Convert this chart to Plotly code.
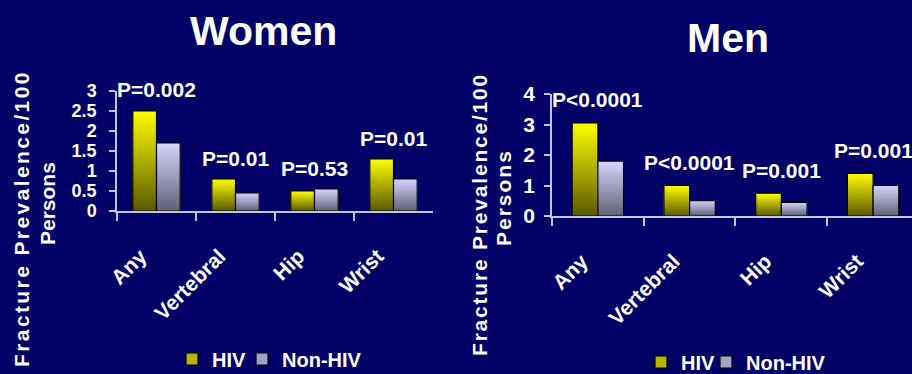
import plotly.graph_objects as go

# ---- data -------------------------------------------------------------
categories = ["Any", "Vertebral", "Hip", "Wrist"]

women_hiv = [2.5, 0.8, 0.5, 1.3]
women_non_hiv = [1.7, 0.45, 0.55, 0.8]
women_p = ["P=0.002", "P=0.01", "P=0.53", "P=0.01"]

men_hiv = [3.05, 1.0, 0.75, 1.4]
men_non_hiv = [1.8, 0.5, 0.45, 1.0]
men_p = ["P<0.0001", "P<0.0001", "P=0.001", "P=0.001"]

women_yticks = [0, 0.5, 1, 1.5, 2, 2.5, 3]
men_yticks = [0, 1, 2, 3, 4]

# ---- style ------------------------------------------------------------
BG = "#000066"
AXIS = "#C4C4DC"
FONT = "Liberation Sans"
N_SLICES = 30

HIV_TOP, HIV_BOTTOM = (255, 255, 0), (90, 90, 0)
NON_TOP, NON_BOTTOM = (214, 214, 255), (96, 96, 118)


def mix(top, bottom, t):
    """t = 0 at the bottom of a bar, 1 at the top."""
    c = [round(b + (a - b) * t) for a, b in zip(top, bottom)]
    return f"rgb({c[0]},{c[1]},{c[2]})"


def gradient_bars(values, top, bottom, offset, width, xa, ya):
    """A vertically shaded bar series.

    Bars are drawn from the full height downwards, each one shorter than the
    last, so only the top band of each stays visible and the bands never leave
    hairline gaps. A transparent bar with a black edge goes on top.
    """
    traces = []
    for k in range(N_SLICES - 1, -1, -1):
        traces.append(go.Bar(
            x=categories,
            y=[v * (k + 1) / N_SLICES for v in values],
            offset=offset, width=width,
            marker=dict(color=mix(top, bottom, (k + 0.5) / N_SLICES),
                        line=dict(width=0)),
            showlegend=False, hoverinfo="skip",
            xaxis=xa, yaxis=ya,
        ))
    traces.append(go.Bar(
        x=categories, y=values, offset=offset, width=width,
        marker=dict(color="rgba(0,0,0,0)", line=dict(color="#000000", width=1.2)),
        showlegend=False, hoverinfo="skip", xaxis=xa, yaxis=ya,
    ))
    return traces


fig = go.Figure()

panels = [
    ("x", "y", "legend", women_hiv, women_non_hiv, 0.30, 25),
    ("x2", "y2", "legend2", men_hiv, men_non_hiv, 0.28, 20),
]
for xa, ya, lg, hiv, non_hiv, w, lw in panels:
    for t in gradient_bars(hiv, HIV_TOP, HIV_BOTTOM, -w, w, xa, ya):
        fig.add_trace(t)
    for t in gradient_bars(non_hiv, NON_TOP, NON_BOTTOM, 0, w, xa, ya):
        fig.add_trace(t)
    # legend entries
    fig.add_trace(go.Bar(x=[None], y=[None], name="HIV", legend=lg, legendwidth=lw,
                         marker=dict(color=mix(HIV_TOP, HIV_BOTTOM, 0.55),
                                     line=dict(color="#000000", width=1.2)),
                         xaxis=xa, yaxis=ya))
    fig.add_trace(go.Bar(x=[None], y=[None], name="Non-HIV", legend=lg,
                         marker=dict(color=mix(NON_TOP, NON_BOTTOM, 0.55),
                                     line=dict(color="#000000", width=1.2)),
                         xaxis=xa, yaxis=ya))

W, H = 912, 374

tick_font = dict(family=FONT, size=21, color="white", weight="bold")

xaxis_common = dict(
    type="category", showline=True, linecolor=AXIS, linewidth=1.5,
    ticks="outside", tickson="boundaries", ticklen=8, tickcolor=AXIS, tickwidth=1.5,
    tickangle=-45, tickfont=tick_font, showgrid=False, zeroline=False,
    ticklabelstandoff=23, ticklabelshift=-16,
)
yaxis_common = dict(
    showline=True, linecolor=AXIS, linewidth=1.5,
    ticks="outside", ticklen=6, tickcolor=AXIS, tickwidth=1.5,
    showgrid=False, zeroline=False,
)
legend_common = dict(
    orientation="h", xanchor="left", yanchor="middle",
    font=dict(family=FONT, size=20, color="white", weight="bold"),
    bgcolor="rgba(0,0,0,0)", borderwidth=0,
)

fig.update_layout(
    width=W, height=H,
    margin=dict(l=0, r=0, t=0, b=0, autoexpand=False),
    paper_bgcolor=BG, plot_bgcolor=BG,
    barmode="overlay",
    xaxis=dict(domain=[117 / W, 433 / W], range=[-0.5, 3.5], anchor="y", **xaxis_common),
    yaxis=dict(domain=[(H - 211) / H, (H - 91) / H], range=[0, 3], anchor="x",
               tickvals=women_yticks, ticklabelstandoff=9,
               tickfont=dict(family=FONT, size=18, color="white", weight="bold"),
               **yaxis_common),
    xaxis2=dict(domain=[552 / W, 1.0], range=[-0.5, 3.424], anchor="y2", **xaxis_common),
    yaxis2=dict(domain=[(H - 216) / H, (H - 94) / H], range=[0, 4], anchor="x2",
                tickvals=men_yticks, ticklabelstandoff=5, tickfont=tick_font,
                **yaxis_common),
    legend=dict(x=172 / W, y=1 - 359 / H, **legend_common),
    legend2=dict(x=641 / W, y=1 - 362 / H, **legend_common),
    showlegend=True,
)

annotations = []
# panel titles
annotations.append(dict(text="Women", x=263 / W, y=1 - 31 / H, xref="paper", yref="paper",
                        showarrow=False, xanchor="center", yanchor="middle",
                        font=dict(family=FONT, size=41, color="white", weight="bold")))
annotations.append(dict(text="Men", x=728 / W, y=1 - 38 / H, xref="paper", yref="paper",
                        showarrow=False, xanchor="center", yanchor="middle",
                        font=dict(family=FONT, size=41, color="white", weight="bold")))

# y-axis titles (two rotated lines each)
title_font = dict(family=FONT, size=21, color="white", weight="bold")
for txt, cx, cy, sp in [
    ("Fracture Prevalence/100", 21, 219, 2.4),
    ("Persons", 48, 204, 0.0),
    ("Fracture Prevalence/100", 479, 215, 1.8),
    ("Persons", 503, 198, 2.0),
]:
    annotations.append(dict(
        text=f'<span style="letter-spacing:{sp}px">{txt}</span>',
        x=cx / W, y=1 - cy / H, xref="paper", yref="paper", textangle=-90,
        showarrow=False, xanchor="center", yanchor="middle", font=title_font))

# P-value labels above each category
p_font = dict(family=FONT, size=21, color="white", weight="bold")
for xr, yr, hiv, non_hiv, labels, shift in [
    ("x", "y", women_hiv, women_non_hiv, women_p, 21),
    ("x2", "y2", men_hiv, men_non_hiv, men_p, 23),
]:
    for cat, a, b, lab in zip(categories, hiv, non_hiv, labels):
        annotations.append(dict(text=lab, x=cat, y=max(a, b), xref=xr, yref=yr,
                                yshift=shift, showarrow=False, xanchor="center",
                                yanchor="middle", font=p_font))

fig.update_layout(annotations=annotations)

fig.write_html("out.html")
